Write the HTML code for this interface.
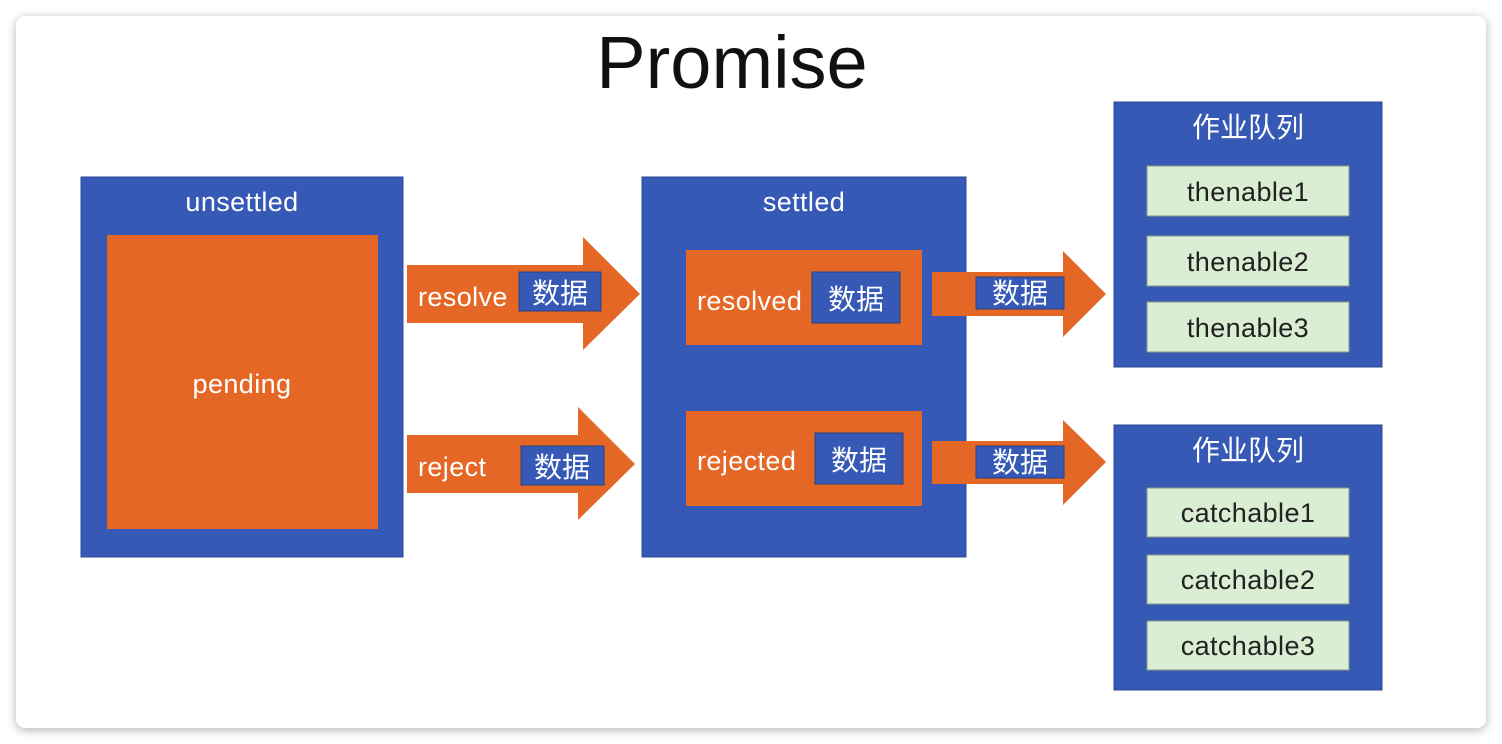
<!DOCTYPE html>
<html><head><meta charset="utf-8"><style>
html,body{margin:0;padding:0;background:#f0f0f0;}
svg{display:block}
text{font-family:"Liberation Sans","Noto Sans CJK SC",sans-serif;}
.l{font-size:27px;letter-spacing:0.4px}
</style></head><body>
<svg width="1502" height="744" viewBox="0 0 1502 744" xmlns="http://www.w3.org/2000/svg">
<defs><filter id="sh" x="-5%" y="-5%" width="110%" height="110%"><feGaussianBlur stdDeviation="5"/></filter></defs>
<rect x="0" y="0" width="1502" height="744" fill="#ffffff"/>
<rect x="16" y="18" width="1470" height="712" rx="9" fill="#000" opacity="0.3" filter="url(#sh)"/>
<rect x="16" y="16" width="1470" height="712" rx="9" fill="#ffffff"/>
<text x="732" y="88" font-size="74" text-anchor="middle" fill="#111">Promise</text>

<g stroke="#2d4a9a" stroke-width="1">
<rect x="81" y="177" width="322" height="380" fill="#3559b5"/>
<rect x="642" y="177" width="324" height="380" fill="#3559b5"/>
<rect x="1114" y="102" width="268" height="265" fill="#3559b5"/>
<rect x="1114" y="425" width="268" height="265" fill="#3559b5"/>
</g>
<g fill="#fff" text-anchor="middle">
<text class="l" x="242" y="211">unsettled</text>
<text class="l" x="804" y="211">settled</text>
<text x="1248" y="137" font-size="28">作业队列</text>
<text x="1248" y="460" font-size="28">作业队列</text>
</g>
<rect x="107" y="235" width="271" height="294" fill="#e46726"/>
<text class="l" x="242" y="393" fill="#fff" text-anchor="middle">pending</text>

<rect x="686" y="250" width="236" height="95" fill="#e46726"/>
<rect x="686" y="411" width="236" height="95" fill="#e46726"/>

<g fill="#e46726">
<polygon points="407,265 583,265 583,237 640,294 583,350 583,323 407,323"/>
<polygon points="407,435 578,435 578,407 635,464 578,520 578,493 407,493"/>
<polygon points="932,272 1063,272 1063,251 1106,294 1063,337 1063,316 932,316"/>
<polygon points="932,441 1063,441 1063,420 1106,462 1063,505 1063,484 932,484"/>
</g>
<g fill="#3559b5" stroke="#2a3f80" stroke-width="1">
<rect x="519" y="272" width="82" height="39"/>
<rect x="521" y="446" width="83" height="39"/>
<rect x="812" y="272" width="88" height="51"/>
<rect x="815" y="433" width="88" height="51"/>
<rect x="976" y="277" width="88" height="32"/>
<rect x="976" y="446" width="88" height="32"/>
</g>
<g fill="#fff">
<text class="l" x="418" y="306">resolve</text>
<text class="l" x="418" y="476">reject</text>
<text class="l" x="697" y="310">resolved</text>
<text class="l" x="697" y="470">rejected</text>
</g>
<g fill="#fff" font-size="28" text-anchor="middle">
<text x="560" y="303">数据</text>
<text x="562" y="477">数据</text>
<text x="856" y="309">数据</text>
<text x="859" y="470">数据</text>
<text x="1020" y="303">数据</text>
<text x="1020" y="472">数据</text>
</g>
<g fill="#daeed3" stroke="#8a9a88" stroke-width="1">
<rect x="1147" y="166" width="202" height="50"/>
<rect x="1147" y="236" width="202" height="50"/>
<rect x="1147" y="302" width="202" height="50"/>
<rect x="1147" y="488" width="202" height="49"/>
<rect x="1147" y="555" width="202" height="49"/>
<rect x="1147" y="621" width="202" height="49"/>
</g>
<g fill="#222" text-anchor="middle">
<text class="l" x="1248" y="201">thenable1</text>
<text class="l" x="1248" y="271">thenable2</text>
<text class="l" x="1248" y="337">thenable3</text>
<text class="l" x="1248" y="522">catchable1</text>
<text class="l" x="1248" y="589">catchable2</text>
<text class="l" x="1248" y="655">catchable3</text>
</g>
</svg>
</body></html>
